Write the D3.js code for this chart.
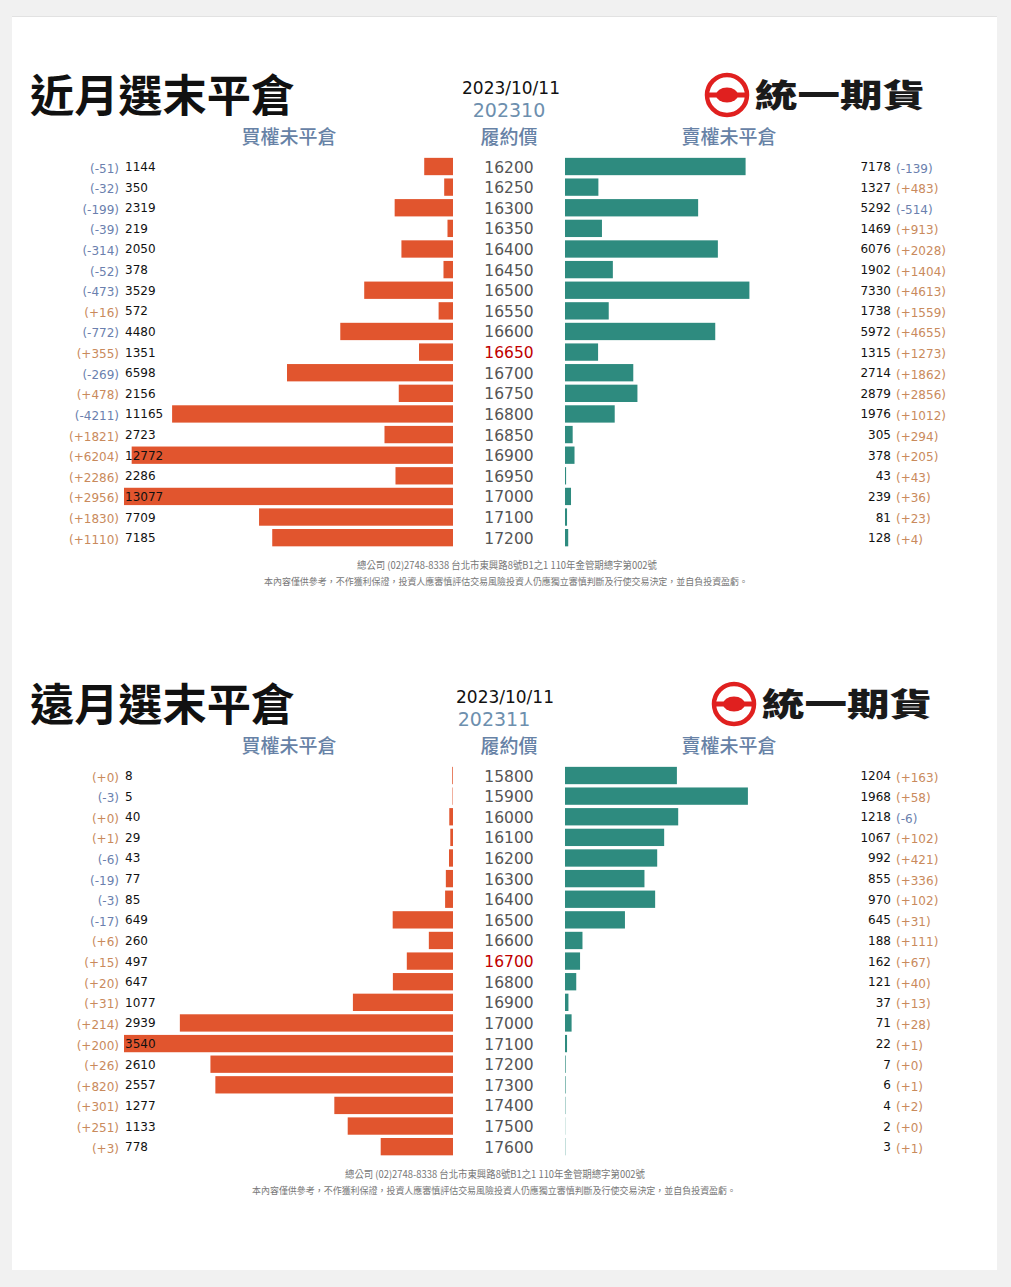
<!DOCTYPE html>
<html><head><meta charset="utf-8">
<script src="https://cdn.jsdelivr.net/npm/d3@7"></script>
<style>html,body{margin:0;padding:0;background:#f1f1f1;}svg{display:block;}</style>
</head><body>
<script>
// ---- Data ----
const nearTitle = "近月選末平倉";
const farTitle = "遠月選末平倉";
const dateLabel = "2023/10/11";
const nearMonth = "202310";
const farMonth = "202311";

const nearStrikes = [16200,16250,16300,16350,16400,16450,16500,16550,16600,16650,16700,16750,16800,16850,16900,16950,17000,17100,17200];
const nearCallOI  = [1144,350,2319,219,2050,378,3529,572,4480,1351,6598,2156,11165,2723,12772,2286,13077,7709,7185];
const nearCallChg = [-51,-32,-199,-39,-314,-52,-473,16,-772,355,-269,478,-4211,1821,6204,2286,2956,1830,1110];
const nearPutOI   = [7178,1327,5292,1469,6076,1902,7330,1738,5972,1315,2714,2879,1976,305,378,43,239,81,128];
const nearPutChg  = [-139,483,-514,913,2028,1404,4613,1559,4655,1273,1862,2856,1012,294,205,43,36,23,4];
const nearATM = 16650;

const farStrikes = [15800,15900,16000,16100,16200,16300,16400,16500,16600,16700,16800,16900,17000,17100,17200,17300,17400,17500,17600];
const farCallOI  = [8,5,40,29,43,77,85,649,260,497,647,1077,2939,3540,2610,2557,1277,1133,778];
const farCallChg = [0,-3,0,1,-6,-19,-3,-17,6,15,20,31,214,200,26,820,301,251,3];
const farPutOI   = [1204,1968,1218,1067,992,855,970,645,188,162,121,37,71,22,7,6,4,2,3];
const farPutChg  = [163,58,-6,102,421,336,102,31,111,67,40,13,28,1,0,1,2,0,1];
const farATM = 16700;

const headers = ["買權未平倉","履約價","賣權未平倉"];
const logoText = "統一期貨";
const footer1 = "總公司 (02)2748-8338 台北市東興路8號B1之1 110年金管期總字第002號";
const footer2 = "本內容僅供參考，不作獲利保證，投資人應審慎評估交易風險投資人仍應獨立審慎判斷及行使交易決定，並自負投資盈虧。";

// ---- Drawing ----
const W = 1011, H = 1287;
const svg = d3.select("body").append("svg").attr("width", W).attr("height", H);
svg.append("rect").attr("width", W).attr("height", H).attr("fill", "#f1f1f1");
svg.append("rect").attr("x", 12).attr("y", 16).attr("width", 985).attr("height", 1254).attr("fill", "#e2e2e2");
svg.append("rect").attr("x", 12).attr("y", 17).attr("width", 985).attr("height", 1253).attr("fill", "#ffffff");

const CJK = "'Noto Sans CJK TC','Noto Sans CJK SC',sans-serif";
const NUM = "'DejaVu Sans','Noto Sans',sans-serif";
const callColor = "#e1552e", putColor = "#2e8b7f";
const negColor = "#6b7fae", posColor = "#c98a5c";

function fmtChg(d){ return d >= 0 ? "(+" + d + ")" : "(" + d + ")"; }

function panel(cfg){
  const g = svg.append("g");
  const oy = cfg.oy;
  // title
  g.append("text").attr("x", 30).attr("y", oy + 112).text(cfg.title)
    .attr("font-family", CJK).attr("font-weight", 700).attr("font-size", 44).attr("fill", "#111")
    .attr("textLength", 265).attr("lengthAdjust", "spacingAndGlyphs");
  // date and month
  g.append("text").attr("x", cfg.dateX).attr("y", oy + 94).attr("text-anchor", "middle").text(dateLabel)
    .attr("font-family", NUM).attr("font-size", 17).attr("fill", "#111");
  g.append("text").attr("x", cfg.monthX).attr("y", oy + 117).attr("text-anchor", "middle").text(cfg.month)
    .attr("font-family", NUM).attr("font-size", 19).attr("fill", "#6d8fae");
  // logo
  const lg = g.append("g").attr("transform", `translate(${cfg.logoX},${oy + 95})`);
  lg.append("circle").attr("r", 20).attr("fill", "#fff").attr("stroke", "#e0201f").attr("stroke-width", 4.5);
  lg.append("rect").attr("x", -20).attr("y", -2.5).attr("width", 40).attr("height", 5).attr("fill", "#e0201f");
  lg.append("ellipse").attr("rx", 11).attr("ry", 7.5).attr("fill", "#e0201f");
  lg.append("text").attr("x", 28).attr("y", 12).text(logoText)
    .attr("font-family", CJK).attr("font-weight", 900).attr("font-size", 32).attr("fill", "#1a1a1a")
    .attr("textLength", 170).attr("lengthAdjust", "spacingAndGlyphs");
  // headers
  [[289, headers[0]], [509, headers[1]], [729, headers[2]]].forEach(([x, t]) => {
    g.append("text").attr("x", x).attr("y", oy + 144).attr("text-anchor", "middle").text(t)
      .attr("font-family", CJK).attr("font-weight", 500).attr("font-size", 19).attr("fill", "#6782a6");
  });

  const n = cfg.strikes.length;
  const step = 20.62;
  const top = oy + 156.2;
  const y = d3.scaleBand().domain(cfg.strikes).range([top, top + n * step]).paddingInner(0.16).paddingOuter(0.08);
  const maxV = d3.max(cfg.callOI.concat(cfg.putOI));
  const x = d3.scaleLinear().domain([0, maxV]).range([0, 329]);
  const callRight = 453, putLeft = 565;
  const rows = cfg.strikes.map((s, i) => ({s, c: cfg.callOI[i], cc: cfg.callChg[i], p: cfg.putOI[i], pc: cfg.putChg[i]}));

  g.selectAll(".cb").data(rows).join("rect")
    .attr("x", d => callRight - x(d.c)).attr("y", d => y(d.s))
    .attr("width", d => x(d.c)).attr("height", y.bandwidth()).attr("fill", callColor);
  g.selectAll(".pb").data(rows).join("rect")
    .attr("x", putLeft).attr("y", d => y(d.s))
    .attr("width", d => x(d.p)).attr("height", y.bandwidth()).attr("fill", putColor);

  const cy = d => y(d.s) + y.bandwidth() / 2;
  // strikes
  g.selectAll(".st").data(rows).join("text")
    .attr("x", 509).attr("y", d => cy(d) + 6).attr("text-anchor", "middle").text(d => d.s)
    .attr("font-family", NUM).attr("font-size", 15.5).attr("fill", d => d.s === cfg.atm ? "#c00000" : "#555");
  // left labels
  g.selectAll(".lc").data(rows).join("text")
    .attr("x", 119).attr("y", d => cy(d) + 6).attr("text-anchor", "end").text(d => fmtChg(d.cc))
    .attr("font-family", NUM).attr("font-size", 12).attr("fill", d => d.cc >= 0 ? posColor : negColor);
  g.selectAll(".ln").data(rows).join("text")
    .attr("x", 125).attr("y", d => cy(d) + 4.5).attr("text-anchor", "start").text(d => d.c)
    .attr("font-family", NUM).attr("font-size", 12).attr("fill", "#111");
  // right labels
  g.selectAll(".rn").data(rows).join("text")
    .attr("x", 891).attr("y", d => cy(d) + 4.5).attr("text-anchor", "end").text(d => d.p)
    .attr("font-family", NUM).attr("font-size", 12).attr("fill", "#111");
  g.selectAll(".rc").data(rows).join("text")
    .attr("x", 896).attr("y", d => cy(d) + 6).attr("text-anchor", "start").text(d => fmtChg(d.pc))
    .attr("font-family", NUM).attr("font-size", 12).attr("fill", d => d.pc >= 0 ? posColor : negColor);

  // footer
  g.append("text").attr("x", cfg.f1x).attr("y", oy + 569).attr("text-anchor", "middle").text(footer1)
    .attr("font-family", CJK).attr("font-size", 10).attr("fill", "#777")
    .attr("textLength", 300).attr("lengthAdjust", "spacingAndGlyphs");
  g.append("text").attr("x", cfg.f2x).attr("y", oy + 585).attr("text-anchor", "middle").text(footer2)
    .attr("font-family", CJK).attr("font-size", 9.5).attr("fill", "#777")
    .attr("textLength", 484).attr("lengthAdjust", "spacingAndGlyphs");
}

panel({oy: 0, title: nearTitle, month: nearMonth, dateX: 511, monthX: 509, logoX: 727,
  strikes: nearStrikes, callOI: nearCallOI, callChg: nearCallChg, putOI: nearPutOI, putChg: nearPutChg, atm: nearATM,
  f1x: 507, f2x: 506});
panel({oy: 609, title: farTitle, month: farMonth, dateX: 505, monthX: 494, logoX: 734,
  strikes: farStrikes, callOI: farCallOI, callChg: farCallChg, putOI: farPutOI, putChg: farPutChg, atm: farATM,
  f1x: 495, f2x: 494});
</script>
</body></html>
